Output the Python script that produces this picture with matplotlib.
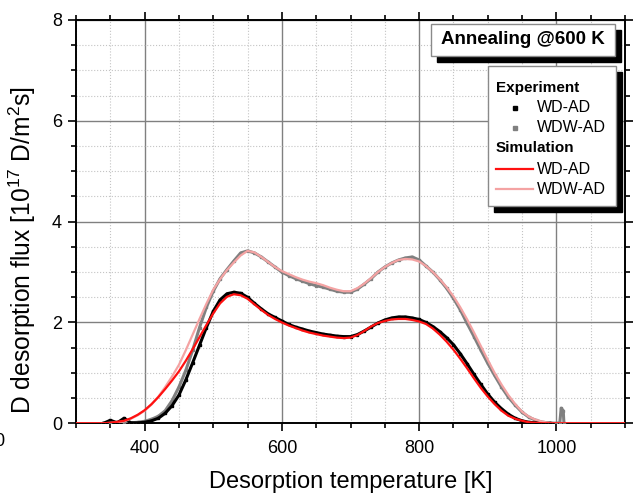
import matplotlib
matplotlib.use("Agg")
import matplotlib.pyplot as plt
from matplotlib.patches import Rectangle
from matplotlib.lines import Line2D
from matplotlib.ticker import MultipleLocator

plt.rcParams['font.family'] = ['Liberation Sans', 'DejaVu Sans']
plt.rcParams['mathtext.default'] = 'regular'

# ---------------- data ----------------
T_exp_wd = [340, 350, 360, 370, 380, 390, 400, 410, 420, 430, 440, 450, 460, 470, 480, 490,
            500, 510, 520, 530, 540, 550, 560, 570, 580, 590, 600, 610, 620, 630, 640, 650,
            660, 670, 680, 690, 700, 710, 720, 730, 740, 750, 760, 770, 780, 790, 800, 810,
            820, 830, 840, 850, 860, 870, 880, 890, 900, 910, 920, 930, 940, 950, 960, 970,
            980, 990]
exp_wd = [0.0, 0.06, 0.01, 0.10, 0.01, 0.01, 0.02, 0.05, 0.10, 0.20, 0.35, 0.56, 0.86, 1.20, 1.55, 1.90,
          2.22, 2.45, 2.57, 2.60, 2.58, 2.50, 2.38, 2.27, 2.17, 2.10, 2.03, 1.96, 1.91, 1.87, 1.83, 1.80,
          1.77, 1.75, 1.73, 1.72, 1.72, 1.76, 1.83, 1.91, 1.99, 2.05, 2.09, 2.11, 2.11, 2.09, 2.06, 2.00,
          1.92, 1.82, 1.70, 1.56, 1.38, 1.18, 0.97, 0.77, 0.58, 0.42, 0.29, 0.18, 0.10, 0.05, 0.02, 0.01,
          0.0, 0.0]

T_exp_wdw = [340, 350, 360, 370, 380, 390, 400, 410, 420, 430, 440, 450, 460, 470, 480, 490,
             500, 510, 520, 530, 540, 550, 560, 570, 580, 590, 600, 610, 620, 630, 640, 650,
             660, 670, 680, 690, 700, 710, 720, 730, 740, 750, 760, 770, 780, 790, 800, 810,
             820, 830, 840, 850, 860, 870, 880, 890, 900, 910, 920, 930, 940, 950, 960, 970,
             980, 990, 1000, 1005, 1007, 1010, 1011]
exp_wdw = [0.0, 0.0, 0.02, 0.0, 0.01, 0.02, 0.04, 0.08, 0.14, 0.25, 0.45, 0.72, 1.05, 1.45, 1.90, 2.30,
           2.62, 2.87, 3.05, 3.22, 3.38, 3.42, 3.38, 3.30, 3.20, 3.10, 3.00, 2.93, 2.87, 2.82, 2.77, 2.73,
           2.70, 2.66, 2.62, 2.60, 2.60, 2.66, 2.76, 2.87, 3.00, 3.10, 3.18, 3.24, 3.28, 3.30, 3.24, 3.12,
           3.00, 2.85, 2.68, 2.48, 2.25, 1.98, 1.72, 1.45, 1.19, 0.95, 0.72, 0.52, 0.36, 0.22, 0.12, 0.06,
           0.02, 0.01, 0.0, 0.01, 0.30, 0.25, 0.0]

T_sim = [300, 340, 350, 360, 370, 380, 390, 400, 410, 420, 430, 440, 450, 460, 470, 480, 490,
         500, 510, 520, 530, 540, 550, 560, 570, 580, 590, 600, 610, 620, 630, 640, 650,
         660, 670, 680, 690, 700, 710, 720, 730, 740, 750, 760, 770, 780, 790, 800, 810,
         820, 830, 840, 850, 860, 870, 880, 890, 900, 910, 920, 930, 940, 950, 960, 970,
         980, 990, 1000, 1100]
sim_wd = [0.0, 0.0, 0.01, 0.03, 0.05, 0.10, 0.17, 0.26, 0.38, 0.52, 0.68, 0.85, 1.03, 1.24, 1.47, 1.71, 1.95,
          2.18, 2.38, 2.51, 2.56, 2.54, 2.47, 2.36, 2.25, 2.15, 2.07, 2.00, 1.94, 1.89, 1.84, 1.80, 1.77,
          1.74, 1.72, 1.70, 1.69, 1.70, 1.75, 1.83, 1.92, 1.99, 2.03, 2.06, 2.07, 2.07, 2.05, 2.02, 1.97,
          1.88, 1.76, 1.62, 1.46, 1.28, 1.09, 0.89, 0.70, 0.53, 0.38, 0.25, 0.15, 0.09, 0.05, 0.02, 0.01,
          0.0, 0.0, 0.0, 0.0]
sim_wdw = [0.0, 0.0, 0.01, 0.02, 0.04, 0.09, 0.16, 0.25, 0.37, 0.53, 0.72, 0.93, 1.16, 1.45, 1.76, 2.07, 2.37,
           2.65, 2.86, 3.04, 3.19, 3.33, 3.42, 3.39, 3.30, 3.20, 3.10, 3.02, 2.96, 2.90, 2.85, 2.81, 2.78,
           2.74, 2.69, 2.65, 2.62, 2.62, 2.68, 2.77, 2.88, 3.00, 3.10, 3.18, 3.24, 3.26, 3.25, 3.21, 3.12,
           3.00, 2.86, 2.70, 2.52, 2.30, 2.06, 1.80, 1.53, 1.26, 1.00, 0.77, 0.56, 0.38, 0.23, 0.13, 0.07,
           0.03, 0.01, 0.0, 0.0]

xticks = [400, 600, 800, 1000]
yticks = [0, 2, 4, 6, 8]

# ---------------- figure ----------------
W, H = 639, 501
fig = plt.figure(figsize=(W / 100, H / 100), dpi=100)
L, R, T, B = 76, 625, 20, 423.3
ax = fig.add_axes([L / W, 1 - B / H, (R - L) / W, (B - T) / H])

ax.plot(T_exp_wdw, exp_wdw, color='#808080', lw=2.2, marker='s', ms=1.6, zorder=3)
ax.plot(T_exp_wd, exp_wd, color='black', lw=2.2, marker='s', ms=1.6, zorder=3)
ax.plot(T_sim, sim_wdw, color='#f4a3a3', lw=1.6, zorder=4)
ax.plot(T_sim, sim_wd, color='#ff1010', lw=1.6, zorder=4)

ax.set_xlim(300, 1100)
ax.set_ylim(0, 8)
ax.set_xticks(xticks)
ax.set_yticks(yticks)
ax.xaxis.set_minor_locator(MultipleLocator(50))
ax.yaxis.set_minor_locator(MultipleLocator(0.5))
ax.grid(True, which='major', color='#808080', lw=1.0, ls='-')
ax.grid(True, which='minor', color='#c4c4c4', lw=0.8, ls=':')
ax.set_axisbelow(True)
ax.tick_params(which='both', direction='out', top=True, right=True, width=1.2, labelsize=13)
ax.tick_params(which='major', length=6)
ax.tick_params(which='minor', length=3.5)
ax.tick_params(axis='x', pad=6)
ax.tick_params(axis='y', pad=4)
for s in ax.spines.values():
    s.set_linewidth(1.4)

ax.set_xlabel('Desorption temperature [K]', fontsize=17, labelpad=10)
ax.set_ylabel('D desorption flux [10$^{17}$ D/m$^{2}$s]', fontsize=17.7)
ax.yaxis.set_label_coords(-0.07, (B - 250) / (B - T))


def fx(px):
    return (px - L) / (R - L)


def fy(py):
    return (B - py) / (B - T)


def box(x0, y0, x1, y1, off=6):
    ax.add_patch(Rectangle((fx(x0 + off), fy(y1 + off)), fx(x1) - fx(x0), fy(y0) - fy(y1),
                           transform=ax.transAxes, facecolor='black', edgecolor='black',
                           zorder=6, clip_on=False))
    ax.add_patch(Rectangle((fx(x0), fy(y1)), fx(x1) - fx(x0), fy(y0) - fy(y1),
                           transform=ax.transAxes, facecolor='white', edgecolor='#8a8a8a',
                           lw=1.0, zorder=7, clip_on=False))


# title box
box(431, 24, 615, 56)
ax.text(fx(523), fy(40), 'Annealing @600 K', transform=ax.transAxes, ha='center', va='center',
        fontsize=13.5, fontweight='bold', zorder=8)

# legend box
box(488, 66, 616, 206)
ax.text(fx(496), fy(88), 'Experiment', transform=ax.transAxes, ha='left', va='center',
        fontsize=11, fontweight='bold', zorder=8)
ax.text(fx(496), fy(148), 'Simulation', transform=ax.transAxes, ha='left', va='center',
        fontsize=11, fontweight='bold', zorder=8)
ax.add_line(Line2D([fx(515)], [fy(108)], transform=ax.transAxes, marker='s', ms=2.2,
                   color='black', ls='none', zorder=8))
ax.add_line(Line2D([fx(515)], [fy(128)], transform=ax.transAxes, marker='s', ms=2.2,
                   color='#808080', ls='none', zorder=8))
ax.add_line(Line2D([fx(496), fx(533)], [fy(169), fy(169)], transform=ax.transAxes,
                   color='#ff1010', lw=1.6, zorder=8))
ax.add_line(Line2D([fx(496), fx(533)], [fy(189), fy(189)], transform=ax.transAxes,
                   color='#f4a3a3', lw=1.6, zorder=8))
for yy, lab in [(108, 'WD-AD'), (128, 'WDW-AD'), (169, 'WD-AD'), (189, 'WDW-AD')]:
    ax.text(fx(537), fy(yy), lab, transform=ax.transAxes, ha='left', va='center',
            fontsize=11.5, zorder=8)

# clipped fragment of neighbouring panel (cut off at the left edge, as in the reference)
fig.text(-1 / W, 1 - 441 / H, '0', ha='center', va='center', fontsize=13)

fig.savefig('out.png', dpi=100)
